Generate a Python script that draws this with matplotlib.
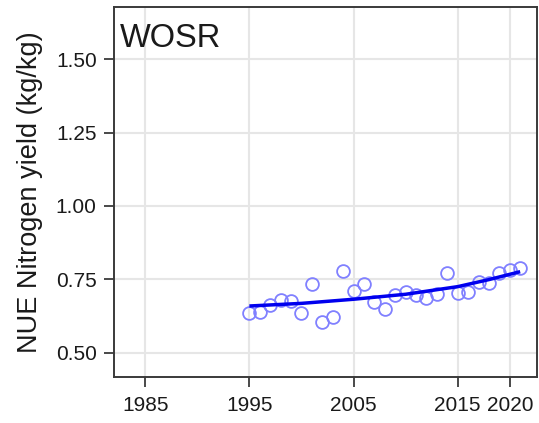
import numpy as np
import matplotlib
matplotlib.use('Agg')
import matplotlib.pyplot as plt

plt.rcParams['font.family'] = ['Liberation Sans', 'DejaVu Sans']

# ── Data ──────────────────────────────────────────────────────────────────────
years = [1995, 1996, 1997, 1998, 1999, 2000, 2001, 2002, 2003, 2004,
         2005, 2006, 2007, 2008, 2009, 2010, 2011, 2012, 2013, 2014,
         2015, 2016, 2017, 2018, 2019, 2020, 2021]
nue = [0.636, 0.640, 0.663, 0.680, 0.677, 0.634, 0.734, 0.606, 0.621, 0.779,
       0.711, 0.734, 0.674, 0.649, 0.697, 0.708, 0.697, 0.685, 0.699, 0.773,
       0.703, 0.708, 0.742, 0.737, 0.773, 0.780, 0.788]

# fitted trend
trend_years = [1995, 2000, 2005, 2010, 2015, 2018, 2021]
trend_nue = [0.659, 0.668, 0.682, 0.699, 0.725, 0.749, 0.776]

xticks = [1985, 1995, 2005, 2015, 2020]
yticks = [0.50, 0.75, 1.00, 1.25, 1.50]

# ── Figure ────────────────────────────────────────────────────────────────────
fig = plt.figure(figsize=(5.39, 4.23), dpi=100)
ax = fig.add_axes([0.2115, 0.1087, 0.996 - 0.2115, 0.9835 - 0.1087])

ax.plot(years, nue, 'o', mfc='none', mec='#8080ff', mew=1.3, ms=9.2, zorder=3)
ax.plot(trend_years, trend_nue, color='#0000ee', lw=2.5, zorder=4,
        solid_capstyle='butt')

ax.set_xlim(1982.0, 2022.6)
ax.set_ylim(0.417, 1.678)
ax.set_xticks(xticks)
ax.set_yticks(yticks)
ax.set_yticklabels([f'{v:.2f}' for v in yticks])

ax.grid(True, color='#e6e6e6', lw=1.5)
ax.set_axisbelow(True)
for s in ax.spines.values():
    s.set_color('#3a3a3a')
    s.set_linewidth(1.4)

ax.tick_params(axis='both', length=7.5, width=1.3, color='#3a3a3a',
               labelsize=15, labelcolor='#1a1a1a')
ax.tick_params(axis='y', pad=5)
ax.tick_params(axis='x', pad=6)

ax.set_ylabel('NUE Nitrogen yield (kg/kg)', fontsize=19.5, color='#1a1a1a',
              labelpad=9)
ax.text(0.015, 0.957, 'WOSR', transform=ax.transAxes, ha='left', va='top',
        fontsize=23.5, color='#1a1a1a')

fig.savefig('out.png', dpi=100)
